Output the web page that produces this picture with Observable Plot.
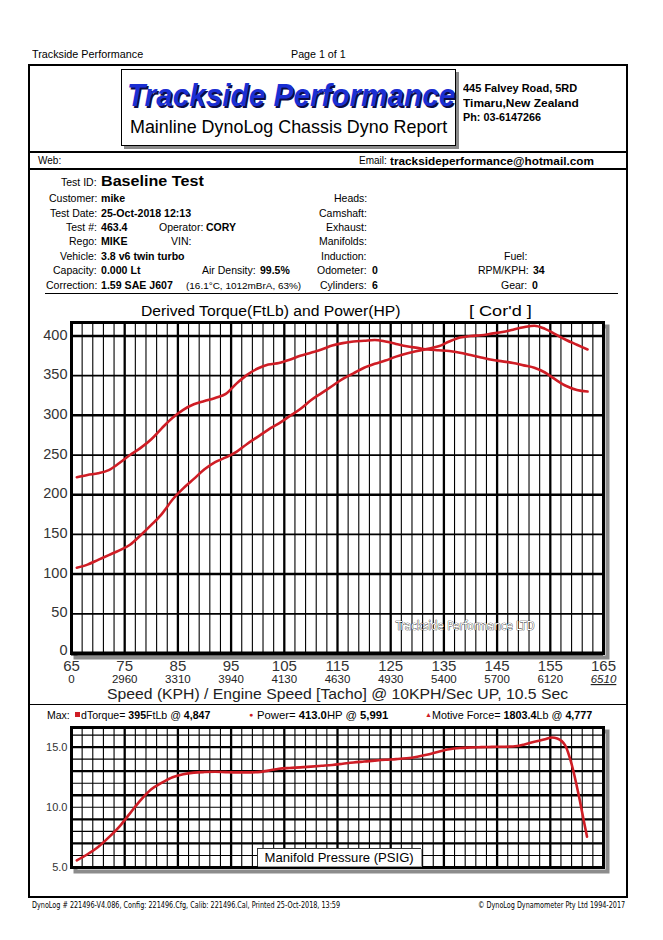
<!DOCTYPE html>
<html><head><meta charset="utf-8">
<script src="https://cdn.jsdelivr.net/npm/d3@7"></script>
<script src="https://cdn.jsdelivr.net/npm/@observablehq/plot@0.6"></script>
<style>
body{margin:0;background:#fff;}
#page{position:relative;width:663px;height:940px;overflow:hidden;font-family:"Liberation Sans",Arial,sans-serif;color:#000;background:#fff;}
.t{position:absolute;white-space:nowrap;line-height:1;}
.ln{position:absolute;background:#000;}
</style></head><body><div id="page"></div>
<script>
// ---------- data ----------
const kph = [66,68,70,72,74,76,78,80,82,84,86,88,90,92,94,96,98,100,102,104,106,108,110,112,114,116,118,120,122,124,126,128,130,132,134,136,138,140,142,144,146,148,150,152,154,156,158,160,162];
const torque = [222,225,227,231,240,250,259,270,284,297,307,314,318,322,327,340,351,359,364,366,370,375,379,383,388,391,393,394,395,393,390,387,385,383,382,381,379,376,373,370,368,366,363,360,354,345,337,332,330];
const power = [108,112,118,124,130,137,149,162,176,194,208,220,232,241,247,254,264,273,282,290,299,308,319,328,337,346,353,360,365,369,374,378,381,384,387,393,398,400,401,403,405,408,411,413,409,402,395,389,383];
const boostKph = [66,68,70,72,74,76,78,80,82,84,86,88,90,92,94,96,98,100,102,104,106,108,110,112,114,116,118,120,122,124,126,128,130,132,134,136,138,140,142,144,146,148,150,152,154,155.3,156.3,157.8,159,160.3,161.2,161.9];
const boost = [5.6,6.1,6.7,7.5,8.4,9.5,10.6,11.5,12.05,12.5,12.75,12.88,12.93,12.95,12.92,12.9,12.9,12.92,13.05,13.2,13.27,13.32,13.38,13.45,13.52,13.62,13.72,13.8,13.88,13.95,14.0,14.07,14.2,14.38,14.62,14.82,14.93,14.97,15.0,15.02,15.03,15.05,15.2,15.45,15.65,15.8,15.72,15.15,13.6,11.1,9.1,7.56];
const kphTicks = [65,75,85,95,105,115,125,135,145,155,165];
const rpmLabels = ["0","2960","3310","3940","4130","4630","4930","5400","5700","6120","6510"];
const yTicks = [0,50,100,150,200,250,300,350,400];
const boostTicks = [5,10,15];
const watermarkText = "Trackside Performance LTD";

// ---------- helpers ----------
const page = document.getElementById("page");
function txt(x, y, html, o = {}) {
  const d = document.createElement("div");
  d.className = "t";
  d.innerHTML = html;
  d.style.fontSize = (o.size || 10.5) + "px";
  if (o.bold) d.style.fontWeight = "bold";
  if (o.italic) d.style.fontStyle = "italic";
  if (o.family) d.style.fontFamily = o.family;
  if (o.color) d.style.color = o.color;
  if (o.css) Object.assign(d.style, o.css);
  page.appendChild(d);
  const w = d.offsetWidth, h = d.offsetHeight;
  const sx = o.width ? o.width / w : 1;
  let left = x;
  if (o.anchor === "end") left = x - w * sx;
  else if (o.anchor === "middle") left = x - w * sx / 2;
  d.style.left = left + "px";
  d.style.top = (y - h / 2) + "px";
  if (sx !== 1) { d.style.transformOrigin = "0 50%"; d.style.transform = `scaleX(${sx})`; }
  return d;
}
function hline(x1, x2, y, w = 1) {
  const d = document.createElement("div"); d.className = "ln";
  Object.assign(d.style, {left: x1 + "px", top: (y - w / 2) + "px", width: (x2 - x1) + "px", height: w + "px"});
  page.appendChild(d);
}
function box(x, y, w, h, css) {
  const d = document.createElement("div");
  Object.assign(d.style, {position: "absolute", left: x + "px", top: y + "px", width: w + "px", height: h + "px", boxSizing: "border-box"}, css);
  page.appendChild(d); return d;
}

// ---------- page furniture ----------
txt(32, 54, "Trackside Performance", {size: 10.5, width: 111});
txt(291, 54, "Page 1 of 1", {size: 10.5, width: 55});
box(28, 64, 600, 834, {border: "2px solid #000"});
box(121, 69, 335, 77, {border: "1px solid #000", background: "#fff", boxShadow: "3px 3px 0 #8a8a8a"});
txt(127, 95, "Trackside Performance", {size: 31, bold: true, italic: true, color: "#1b2fd3", width: 328,
  css: {textShadow: "1.5px 1.5px 0 #0b0b45"}});
txt(130, 128, "Mainline DynoLog Chassis Dyno Report", {size: 17.8, width: 317});
txt(463, 88, "445 Falvey Road, 5RD", {size: 10.8, bold: true, width: 114});
txt(463, 103, "Timaru,New Zealand", {size: 10.8, bold: true, width: 116});
txt(463, 117, "Ph: 03-6147266", {size: 10.8, bold: true, width: 78});
hline(28, 628, 152, 1.5);
txt(38, 161, "Web:", {size: 10});
txt(359, 161, "Email:", {size: 10});
txt(390, 161, "tracksideperformance@hotmail.com", {size: 10.8, bold: true, width: 204});
hline(28, 628, 169, 1.5);

// info block
const L = 97, V = 101;
txt(L, 182, "Test ID:", {size: 10.5, anchor: "end"});
txt(V, 181, "Baseline Test", {size: 15.5, bold: true, width: 103});
const leftRows = [
  [198, "Customer:", "mike"],
  [213, "Test Date:", "25-Oct-2018 12:13"],
  [227, "Test #:", "463.4"],
  [241, "Rego:", "MIKE"],
  [256, "Vehicle:", "3.8 v6 twin turbo"],
  [270, "Capacity:", "0.000 Lt"],
  [285, "Correction:", "1.59 SAE J607"]
];
leftRows.forEach(([y, l, v]) => { txt(L, y, l, {anchor: "end"}); txt(V, y, v, {bold: true, size: 10.6}); });
txt(203, 227, "Operator:", {anchor: "end"}); txt(206, 227, "CORY", {bold: true});
txt(191, 241, "VIN:", {anchor: "end"});
txt(256, 270, "Air Density:", {anchor: "end"}); txt(260, 270, "99.5%", {bold: true});
txt(186, 286, "(16.1°C, 1012mBrA, 63%)", {size: 9, width: 115});
const M = 367;
[[198, "Heads:"], [213, "Camshaft:"], [227, "Exhaust:"], [241, "Manifolds:"], [256, "Induction:"], [270, "Odometer:"], [285, "Cylinders:"]]
  .forEach(([y, l]) => txt(M, y, l, {anchor: "end"}));
txt(372, 270, "0", {bold: true}); txt(372, 285, "6", {bold: true});
txt(527, 256, "Fuel:", {anchor: "end"});
txt(529, 270, "RPM/KPH:", {anchor: "end"}); txt(533, 270, "34", {bold: true});
txt(527, 285, "Gear:", {anchor: "end"}); txt(532, 285, "0", {bold: true});
hline(45, 618, 293, 1);

// chart title
txt(141, 311, "Derived Torque(FtLb) and Power(HP)", {size: 15.5, width: 259});
txt(469, 311, "[ Cor'd ]", {size: 15.5, width: 63});

// ---------- main chart ----------
const minorX = d3.range(67, 165, 2).filter(v => (v - 65) % 10 !== 0);
const red = "#cf1d25";
const main = Plot.plot({
  width: 600, height: 400,
  marginLeft: 43, marginRight: 25, marginTop: 22, marginBottom: 47,
  style: {background: "transparent", fontFamily: "Liberation Sans, Arial, sans-serif", color: "#333", overflow: "visible"},
  x: {domain: [65, 165], label: null},
  y: {domain: [0, 417], label: null},
  marks: [
    Plot.frame({stroke: "#8c8c8c", strokeWidth: 4, dx: 4, dy: 4}),
    Plot.frame({fill: "white", stroke: "none"}),
    Plot.ruleX(minorX, {stroke: "#000", strokeWidth: 1.1}),
    Plot.ruleX(kphTicks, {stroke: "#000", strokeWidth: 2.3}),
    Plot.ruleY(yTicks.filter(v => v % 100 === 50), {stroke: "#000", strokeWidth: 1.7}),
    Plot.ruleY(yTicks.filter(v => v % 100 === 0 && v > 0), {stroke: "#000", strokeWidth: 2.5}),
    Plot.ruleY([0], {stroke: "#000", strokeWidth: 4}),
    Plot.frame({stroke: "#000", strokeWidth: 3}),
    Plot.axisY({ticks: yTicks.filter(v => v > 0), tickSize: 0, tickPadding: 4, fontSize: 14.5, dy: -1, label: null, tickFormat: d => String(d)}),
    Plot.axisY({ticks: [0], tickSize: 0, tickPadding: 4, fontSize: 14.5, dy: -3.5, label: null, tickFormat: d => String(d)}),
    Plot.axisX({ticks: kphTicks, tickSize: 0, tickPadding: 7, fontSize: 15, label: null, tickFormat: d => String(d)}),
    Plot.text(kphTicks, {x: d => d, text: (d, i) => rpmLabels[i], frameAnchor: "bottom", dy: 29.5, fontSize: 11.5, fill: "#222"}),
    Plot.text([watermarkText], {x: [139], y: [34], fontSize: 11.5, fill: "white", stroke: "#222", strokeWidth: 0.7,
      fontFamily: "Liberation Sans Narrow, DejaVu Sans Condensed, sans-serif"}),
    Plot.line(kph.map((k, i) => ({k, v: torque[i]})), {x: "k", y: "v", stroke: red, strokeWidth: 2.6, curve: "monotone-x"}),
    Plot.line(kph.map((k, i) => ({k, v: power[i]})), {x: "k", y: "v", stroke: red, strokeWidth: 2.6, curve: "monotone-x"})
  ]
});
main.querySelectorAll("text").forEach(t => {
  if (t.textContent === rpmLabels[rpmLabels.length - 1]) { t.setAttribute("font-style", "italic"); t.setAttribute("text-decoration", "underline"); }
});
const mainWrap = box(28, 300, 600, 400, {});
mainWrap.appendChild(main);

txt(337, 694, "Speed (KPH) / Engine Speed [Tacho] @ 10KPH/Sec UP, 10.5 Sec", {size: 15.5, anchor: "middle", width: 461, color: "#222"});
hline(28, 628, 704, 1);

// max row
txt(47, 715, "Max:", {size: 10.5});
box(75, 712, 5, 5, {background: red});
txt(81, 715, "dTorque= <b>395</b>FtLb @ <b>4,847</b>", {size: 10.5, width: 129});
txt(249, 714, "●", {size: 7, color: red});
txt(257, 715, "Power= <b>413.0</b>HP @ <b>5,991</b>", {size: 10.5, width: 131});
txt(425, 714, "▲", {size: 7, color: red});
txt(432, 715, "Motive Force= <b>1803.4</b>Lb @ <b>4,777</b>", {size: 10.5, width: 160});

// ---------- boost chart ----------
const boostChart = Plot.plot({
  width: 600, height: 160,
  marginLeft: 43, marginRight: 25, marginTop: 7, marginBottom: 13,
  style: {background: "transparent", fontFamily: "Liberation Sans, Arial, sans-serif", color: "#333", overflow: "visible"},
  x: {domain: [65, 165], axis: null, label: null},
  y: {domain: [5, 16.63], label: null},
  marks: [
    Plot.frame({stroke: "#8c8c8c", strokeWidth: 4, dx: 4, dy: 4}),
    Plot.frame({fill: "white", stroke: "none"}),
    Plot.ruleX(minorX, {stroke: "#000", strokeWidth: 1.1}),
    Plot.ruleX(kphTicks, {stroke: "#000", strokeWidth: 2.3}),
    Plot.ruleY(d3.range(6, 17, 2), {stroke: "#000", strokeWidth: 1.1}),
    Plot.ruleY(d3.range(7, 16, 2), {stroke: "#000", strokeWidth: 2.3}),
    Plot.ruleY([5], {stroke: "#000", strokeWidth: 3}),
    Plot.frame({stroke: "#000", strokeWidth: 3}),
    Plot.axisY({ticks: boostTicks, tickSize: 0, tickPadding: 4, fontSize: 11, label: null, tickFormat: d3.format(".1f")}),
    Plot.line(boostKph.map((k, i) => ({k, v: boost[i]})), {x: "k", y: "v", stroke: red, strokeWidth: 2.6, curve: "monotone-x"})
  ]
});
const boostWrap = box(28, 720, 600, 160, {});
boostWrap.appendChild(boostChart);
box(257, 848, 164, 18, {background: "#fff", borderLeft: "1px solid #333", borderTop: "1px solid #333", boxShadow: "1px 1px 0 #999"});
txt(339, 857.5, "Manifold Pressure (PSIG)", {size: 13.1, anchor: "middle", width: 149});

// footer
txt(32, 906, "DynoLog # 221496-V4.086, Config: 221496.Cfg, Calib: 221496.Cal, Printed 25-Oct-2018, 13:59", {size: 8, width: 308,
  family: "Liberation Sans Narrow, DejaVu Sans Condensed, sans-serif"});
txt(625, 906, "© DynoLog Dynamometer Pty Ltd 1994-2017", {size: 8, width: 147, anchor: "end",
  family: "Liberation Sans Narrow, DejaVu Sans Condensed, sans-serif"});
</script>
</body></html>
